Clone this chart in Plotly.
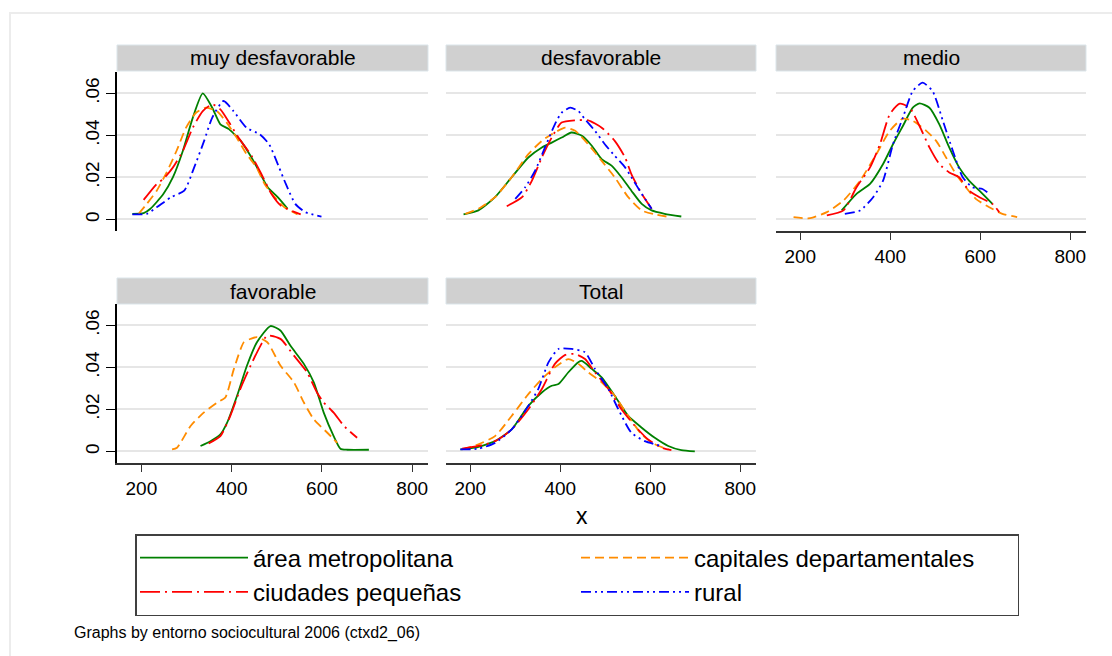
import plotly.graph_objects as go

# ---------------- data ----------------
panel_titles = ["muy desfavorable", "desfavorable", "medio", "favorable", "Total"]
series_names = ["área metropolitana", "capitales departamentales", "ciudades pequeñas", "rural"]
x_tick_vals = [200, 400, 600, 800]
x_tick_text = ["200", "400", "600", "800"]
y_tick_vals = [0, 0.02, 0.04, 0.06]
y_tick_text = ["0", ".02", ".04", ".06"]

# muy desfavorable
p1_area_x = [180, 205, 220, 249, 270, 292, 314, 336, 357, 375, 394, 423, 444, 462, 480, 502, 524]
p1_area_y = [0.0027, 0.0030, 0.0051, 0.0122, 0.0201, 0.0327, 0.0485, 0.0600, 0.0532, 0.0453, 0.0430, 0.0366, 0.0295, 0.0224, 0.0153, 0.0106, 0.0051]
p1_cap_x = [194, 212, 234, 256, 278, 299, 321, 343, 367, 389, 411, 433, 455, 473, 495, 517, 546]
p1_cap_y = [0.0027, 0.0074, 0.0137, 0.0224, 0.0327, 0.0437, 0.0508, 0.0532, 0.0516, 0.0461, 0.0390, 0.0311, 0.0248, 0.0169, 0.0106, 0.0058, 0.0024]
p1_ciu_x = [205, 234, 249, 270, 292, 314, 336, 357, 375, 397, 415, 444, 466, 488, 509, 553]
p1_ciu_y = [0.0093, 0.0169, 0.0193, 0.0248, 0.0327, 0.0437, 0.0516, 0.0548, 0.0524, 0.0453, 0.0390, 0.0303, 0.0216, 0.0122, 0.0066, 0.0024]
p1_rur_x = [180, 212, 234, 266, 295, 317, 339, 357, 382, 404, 433, 462, 483, 505, 520, 541, 563, 599]
p1_rur_y = [0.0024, 0.0027, 0.0058, 0.0106, 0.0137, 0.0248, 0.0374, 0.0485, 0.0564, 0.0516, 0.0437, 0.0406, 0.0358, 0.0248, 0.0169, 0.0074, 0.0035, 0.0014]

# desfavorable
p2_area_x = [185, 218, 255, 292, 329, 359, 381, 403, 425, 448, 470, 492, 514, 536, 558, 581, 603, 632, 669]
p2_area_y = [0.0024, 0.0043, 0.0106, 0.0201, 0.0295, 0.0343, 0.0366, 0.0390, 0.0414, 0.0398, 0.0351, 0.0287, 0.0256, 0.0201, 0.0137, 0.0074, 0.0043, 0.0027, 0.0014]
p2_cap_x = [189, 218, 255, 292, 329, 359, 381, 411, 433, 462, 492, 521, 551, 581, 610, 636]
p2_cap_y = [0.0027, 0.0051, 0.0106, 0.0201, 0.0311, 0.0374, 0.0406, 0.0437, 0.0422, 0.0358, 0.0279, 0.0201, 0.0106, 0.0043, 0.0024, 0.0014]
p2_ciu_x = [281, 315, 337, 359, 381, 403, 433, 462, 492, 521, 544, 558, 581, 603]
p2_ciu_y = [0.0063, 0.0106, 0.0185, 0.0295, 0.0390, 0.0461, 0.0472, 0.0472, 0.0437, 0.0374, 0.0295, 0.0216, 0.0122, 0.0051]
p2_rur_x = [300, 322, 344, 366, 388, 403, 422, 440, 455, 477, 499, 521, 544, 558, 581, 603]
p2_rur_y = [0.0098, 0.0153, 0.0232, 0.0343, 0.0453, 0.0508, 0.0532, 0.0516, 0.0477, 0.0422, 0.0358, 0.0303, 0.0248, 0.0201, 0.0122, 0.0051]

# medio
p3_area_x = [292, 325, 355, 384, 406, 428, 450, 465, 487, 509, 531, 553, 575, 598, 627]
p3_area_y = [0.0043, 0.0122, 0.0169, 0.0264, 0.0358, 0.0445, 0.0532, 0.0553, 0.0532, 0.0453, 0.0343, 0.0248, 0.0185, 0.0137, 0.0074]
p3_cap_x = [185, 222, 259, 296, 333, 369, 399, 428, 450, 480, 502, 524, 546, 568, 590, 620, 649, 682]
p3_cap_y = [0.0011, 0.0006, 0.0035, 0.0090, 0.0185, 0.0311, 0.0422, 0.0480, 0.0469, 0.0422, 0.0374, 0.0295, 0.0216, 0.0153, 0.0098, 0.0058, 0.0027, 0.0011]
p3_ciu_x = [259, 296, 325, 355, 377, 399, 421, 443, 465, 487, 509, 531, 553, 575, 598, 627, 642]
p3_ciu_y = [0.0019, 0.0043, 0.0153, 0.0248, 0.0358, 0.0501, 0.0551, 0.0532, 0.0445, 0.0343, 0.0264, 0.0224, 0.0201, 0.0137, 0.0106, 0.0074, 0.0035]
p3_rur_x = [299, 333, 362, 384, 406, 428, 450, 472, 494, 517, 539, 561, 583, 605, 620]
p3_rur_y = [0.0027, 0.0043, 0.0106, 0.0185, 0.0358, 0.0485, 0.0611, 0.0651, 0.0611, 0.0469, 0.0327, 0.0201, 0.0153, 0.0145, 0.0122]

# favorable (no rural curve)
p4_area_x = [331, 353, 375, 390, 412, 434, 456, 486, 508, 530, 560, 582, 604, 626, 641, 656, 704]
p4_area_y = [0.0026, 0.0049, 0.0081, 0.0137, 0.0265, 0.0409, 0.0520, 0.0597, 0.0576, 0.0504, 0.0417, 0.0329, 0.0185, 0.0073, 0.0013, 0.0008, 0.0008]
p4_cap_x = [268, 279, 309, 338, 368, 386, 405, 427, 442, 456, 479, 508, 538, 560, 582, 612, 634]
p4_cap_y = [0.0010, 0.0018, 0.0121, 0.0185, 0.0233, 0.0257, 0.0393, 0.0520, 0.0536, 0.0544, 0.0520, 0.0409, 0.0329, 0.0233, 0.0153, 0.0089, 0.0041]
p4_ciu_x = [349, 375, 397, 419, 442, 464, 479, 508, 538, 567, 589, 604, 626, 649, 678]
p4_ciu_y = [0.0038, 0.0073, 0.0169, 0.0297, 0.0409, 0.0504, 0.0552, 0.0536, 0.0456, 0.0377, 0.0281, 0.0233, 0.0185, 0.0121, 0.0065]

# Total
p5_area_x = [178, 211, 255, 292, 329, 359, 381, 396, 418, 440, 448, 470, 492, 521, 551, 581, 610, 640, 669, 699]
p5_area_y = [0.0010, 0.0018, 0.0049, 0.0105, 0.0217, 0.0281, 0.0313, 0.0321, 0.0377, 0.0425, 0.0431, 0.0393, 0.0353, 0.0265, 0.0169, 0.0113, 0.0065, 0.0026, 0.0006, 0.0000]
p5_cap_x = [182, 218, 255, 292, 329, 359, 388, 418, 440, 462, 492, 521, 551, 581, 610, 640]
p5_cap_y = [0.0010, 0.0034, 0.0073, 0.0169, 0.0273, 0.0345, 0.0401, 0.0440, 0.0417, 0.0377, 0.0329, 0.0265, 0.0169, 0.0081, 0.0034, 0.0010]
p5_ciu_x = [182, 218, 255, 292, 329, 359, 388, 411, 433, 455, 477, 507, 536, 566, 595, 625, 647]
p5_ciu_y = [0.0013, 0.0026, 0.0049, 0.0105, 0.0201, 0.0297, 0.0417, 0.0460, 0.0464, 0.0440, 0.0377, 0.0297, 0.0201, 0.0121, 0.0057, 0.0018, 0.0006]
p5_rur_x = [178, 218, 255, 292, 329, 351, 374, 396, 425, 455, 477, 507, 529, 558, 588, 625]
p5_rur_y = [0.0010, 0.0013, 0.0041, 0.0105, 0.0217, 0.0297, 0.0425, 0.0488, 0.0488, 0.0472, 0.0393, 0.0297, 0.0201, 0.0089, 0.0049, 0.0026]

panels = [
    [(p1_area_x, p1_area_y), (p1_cap_x, p1_cap_y), (p1_ciu_x, p1_ciu_y), (p1_rur_x, p1_rur_y)],
    [(p2_area_x, p2_area_y), (p2_cap_x, p2_cap_y), (p2_ciu_x, p2_ciu_y), (p2_rur_x, p2_rur_y)],
    [(p3_area_x, p3_area_y), (p3_cap_x, p3_cap_y), (p3_ciu_x, p3_ciu_y), (p3_rur_x, p3_rur_y)],
    [(p4_area_x, p4_area_y), (p4_cap_x, p4_cap_y), (p4_ciu_x, p4_ciu_y), None],
    [(p5_area_x, p5_area_y), (p5_cap_x, p5_cap_y), (p5_ciu_x, p5_ciu_y), (p5_rur_x, p5_rur_y)],
]

# ---------------- styles ----------------
colors = ["#008000", "#FF8C00", "#FF0000", "#0000FF"]
dashes = ["solid", "9px,5px", "20px,5px,2px,5px", "10px,4px,2px,4px,2px,4px"]
FONT = "Liberation Sans, Arial, sans-serif"
W, H = 1112, 656

def px_x(p):
    return p / W

def px_y(p):
    return 1 - p / H

col_px = [(117, 428), (446, 756), (776, 1086)]
row_px = [(72, 231), (304, 463)]
strip_px = [(45, 71), (278, 304)]
pos = [(0, 0), (0, 1), (0, 2), (1, 0), (1, 1)]
x_range = [146, 835]
y_range = [-0.0055, 0.0702]

fig = go.Figure()
layout = {}
shapes = []
annotations = []

for i, (r, c) in enumerate(pos):
    n = i + 1
    xa = "xaxis" if n == 1 else f"xaxis{n}"
    ya = "yaxis" if n == 1 else f"yaxis{n}"
    xref = "x" if n == 1 else f"x{n}"
    yref = "y" if n == 1 else f"y{n}"
    show_x = (r == 1) or (c == 2)
    show_y = (c == 0)
    layout[xa] = dict(
        domain=[px_x(col_px[c][0]), px_x(col_px[c][1])], anchor=yref, range=x_range,
        showgrid=False, zeroline=False, showline=show_x, linecolor="#333333", linewidth=1.5,
        ticks="outside" if show_x else "", ticklen=7, tickwidth=1.2, tickcolor="#333333",
        tickvals=x_tick_vals, ticktext=x_tick_text, showticklabels=show_x,
        tickfont=dict(family=FONT, size=19, color="black"),
    )
    layout[ya] = dict(
        domain=[px_y(row_px[r][1]), px_y(row_px[r][0])], anchor=xref, range=y_range,
        showgrid=True, gridcolor="#e6e6e6", gridwidth=1.5, zeroline=False,
        showline=show_y, linecolor="black", linewidth=1.5,
        ticks="outside" if show_y else "", ticklen=9, tickwidth=1.2, tickcolor="black",
        tickvals=y_tick_vals, ticktext=y_tick_text, showticklabels=show_y, tickangle=-90,
        tickfont=dict(family=FONT, size=19, color="black"),
    )
    # strip
    shapes.append(dict(type="rect", xref="paper", yref="paper",
                       x0=px_x(col_px[c][0]), x1=px_x(col_px[c][1]),
                       y0=px_y(strip_px[r][1]), y1=px_y(strip_px[r][0]),
                       fillcolor="#d0d0d0", line=dict(color="#dbe5ea", width=1), layer="below"))
    annotations.append(dict(text=panel_titles[i], xref="paper", yref="paper",
                            x=(px_x(col_px[c][0]) + px_x(col_px[c][1])) / 2,
                            y=(px_y(strip_px[r][1]) + px_y(strip_px[r][0])) / 2,
                            xanchor="center", yanchor="middle", showarrow=False,
                            font=dict(family=FONT, size=21, color="black")))
    for s, data in enumerate(panels[i]):
        if data is None:
            continue
        fig.add_trace(go.Scatter(
            x=data[0], y=data[1], mode="lines", xaxis=xref, yaxis=yref,
            name=series_names[s], legendgroup=series_names[s], showlegend=(i == 0),
            line=dict(color=colors[s], dash=dashes[s], width=1.8, shape="spline", smoothing=0.6),
            hoverinfo="skip",
        ))

# outer frame
shapes.append(dict(type="rect", xref="paper", yref="paper", x0=px_x(10), y0=-0.05, x1=1.05, y1=px_y(13),
                   line=dict(color="#ececec", width=2), fillcolor="rgba(0,0,0,0)", layer="below"))

annotations.append(dict(text="x", xref="paper", yref="paper", x=px_x(582), y=px_y(516),
                        xanchor="center", yanchor="middle", showarrow=False,
                        font=dict(family=FONT, size=23, color="black")))
annotations.append(dict(text="Graphs by entorno sociocultural 2006 (ctxd2_06)", xref="paper", yref="paper",
                        x=px_x(72), y=px_y(633), xanchor="left", yanchor="middle", showarrow=False,
                        font=dict(family=FONT, size=16, color="black")))

fig.update_layout(
    width=W, height=H, margin=dict(l=0, r=0, t=0, b=0, autoexpand=False),
    paper_bgcolor="white", plot_bgcolor="white",
    shapes=shapes, annotations=annotations,
    legend=dict(orientation="h", x=px_x(135), y=px_y(534), xanchor="left", yanchor="top",
                bordercolor="#404040", borderwidth=1.5, bgcolor="white",
                font=dict(family=FONT, size=24, color="black"),
                entrywidth=318, entrywidthmode="pixels", itemwidth=108, tracegroupgap=0),
    **layout,
)

fig.write_html("out.html")
